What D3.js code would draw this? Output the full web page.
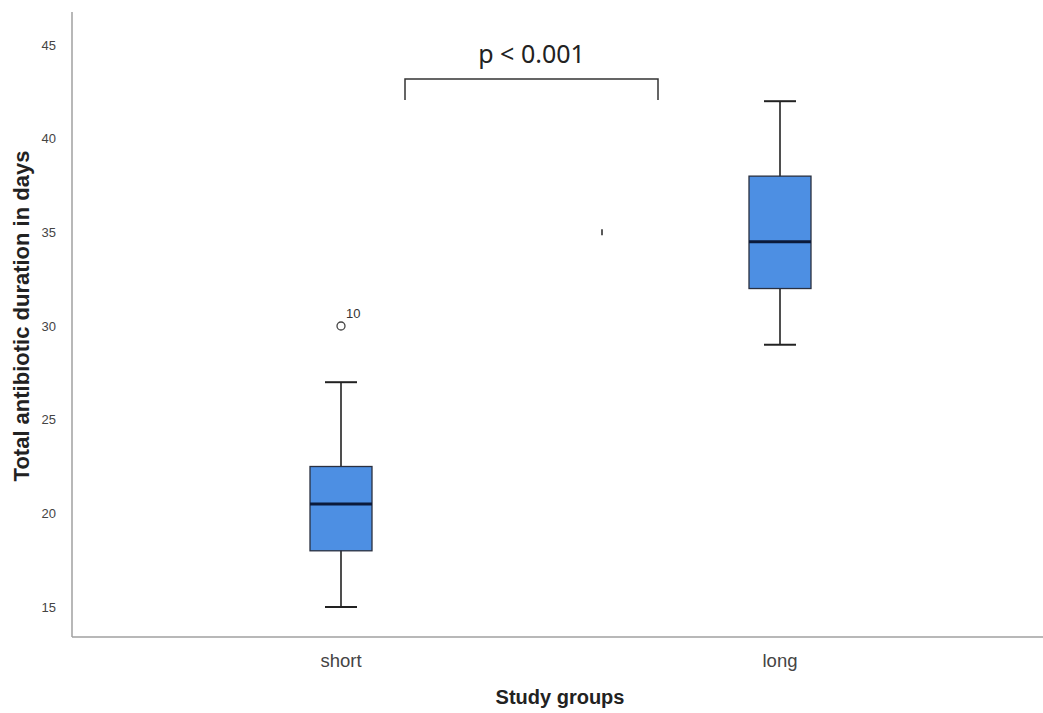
<!DOCTYPE html>
<html>
<head>
<meta charset="utf-8">
<script src="https://cdn.jsdelivr.net/npm/d3@7"></script>
<style>
  body { margin: 0; background: #fff; }
  svg { display: block; font-family: "Liberation Sans", Arial, sans-serif; }
  .tick text { fill: #444; }
</style>
</head>
<body>
<div id="chart"></div>
<script>
// Box plot data
const groups = ['short', 'long'];
const mins = [15, 29];
const q1s = [18, 32];
const medians = [20.5, 34.5];
const q3s = [22.5, 38];
const maxs = [27, 42];
const outliers = [{ group: 'short', value: 30, label: '10' }];
const yTicks = [15, 20, 25, 30, 35, 40, 45];

const W = 1043, H = 713;
const margin = { top: 12, right: 0, bottom: 76, left: 72 };

const svg = d3.select('#chart').append('svg')
    .attr('width', W)
    .attr('height', H);

// 15 -> y 607, 45 -> y 45
const y = d3.scaleLinear().domain([15, 45]).range([607, 45]);
const x = d3.scalePoint().domain(groups).range([341, 780]);

// axes lines
svg.append('line')
    .attr('x1', margin.left).attr('x2', margin.left)
    .attr('y1', margin.top).attr('y2', H - margin.bottom)
    .attr('stroke', '#a0a0a0').attr('stroke-width', 1.5);
svg.append('line')
    .attr('x1', margin.left).attr('x2', W)
    .attr('y1', H - margin.bottom).attr('y2', H - margin.bottom)
    .attr('stroke', '#a0a0a0').attr('stroke-width', 1.5);

// y tick labels
svg.append('g')
    .attr('class', 'tick')
    .selectAll('text')
    .data(yTicks)
    .enter().append('text')
    .attr('x', 56)
    .attr('y', d => y(d))
    .attr('dy', '0.35em')
    .attr('text-anchor', 'end')
    .attr('font-size', 13)
    .text(d => d);

// x tick labels
svg.append('g')
    .attr('class', 'tick')
    .selectAll('text')
    .data(groups)
    .enter().append('text')
    .attr('x', d => x(d))
    .attr('y', 667)
    .attr('text-anchor', 'middle')
    .attr('font-size', 18.5)
    .text(d => d);

// axis titles
svg.append('text')
    .attr('x', 560)
    .attr('y', 704)
    .attr('text-anchor', 'middle')
    .attr('font-size', 20)
    .attr('font-weight', 'bold')
    .attr('fill', '#222')
    .text('Study groups');

svg.append('text')
    .attr('transform', `translate(29, 316) rotate(-90)`)
    .attr('text-anchor', 'middle')
    .attr('font-size', 22)
    .attr('font-weight', 'bold')
    .attr('fill', '#222')
    .text('Total antibiotic duration in days');

// boxes
const boxW = 62, capW = 32;
const rows = groups.map((g, i) => ({
    g, min: mins[i], q1: q1s[i], med: medians[i], q3: q3s[i], max: maxs[i]
}));

const box = svg.append('g').selectAll('g')
    .data(rows)
    .enter().append('g');

box.append('line')
    .attr('x1', d => x(d.g)).attr('x2', d => x(d.g))
    .attr('y1', d => y(d.max)).attr('y2', d => y(d.min))
    .attr('stroke', '#222').attr('stroke-width', 1.6);

box.selectAll('.cap')
    .data(d => [d.min, d.max].map(v => ({ g: d.g, v })))
    .enter().append('line')
    .attr('x1', d => x(d.g) - capW / 2).attr('x2', d => x(d.g) + capW / 2)
    .attr('y1', d => y(d.v)).attr('y2', d => y(d.v))
    .attr('stroke', '#222').attr('stroke-width', 2);

box.append('rect')
    .attr('x', d => x(d.g) - boxW / 2)
    .attr('y', d => y(d.q3))
    .attr('width', boxW)
    .attr('height', d => y(d.q1) - y(d.q3))
    .attr('fill', '#4d8fe3')
    .attr('stroke', '#2a3040')
    .attr('stroke-width', 1.3);

box.append('line')
    .attr('x1', d => x(d.g) - boxW / 2).attr('x2', d => x(d.g) + boxW / 2)
    .attr('y1', d => y(d.med)).attr('y2', d => y(d.med))
    .attr('stroke', '#0b1a3a').attr('stroke-width', 3);

// outliers
outliers.forEach(o => {
    svg.append('circle')
        .attr('cx', x(o.group))
        .attr('cy', y(o.value))
        .attr('r', 4)
        .attr('fill', 'none')
        .attr('stroke', '#444')
        .attr('stroke-width', 1.3);
    svg.append('text')
        .attr('x', x(o.group) + 5)
        .attr('y', y(o.value) - 8)
        .attr('font-size', 13)
        .attr('fill', '#333')
        .text(o.label);
});

// small stray mark in the middle
svg.append('line')
    .attr('x1', 602).attr('x2', 602)
    .attr('y1', y(35) - 3).attr('y2', y(35) + 3)
    .attr('stroke', '#222').attr('stroke-width', 1.5);

// significance bracket
const bx0 = 405, bx1 = 658, bTop = 79, bBot = 100;
svg.append('path')
    .attr('d', `M${bx0},${bBot}V${bTop}H${bx1}V${bBot}`)
    .attr('fill', 'none')
    .attr('stroke', '#333')
    .attr('stroke-width', 1.5);

svg.append('text')
    .attr('x', (bx0 + bx1) / 2)
    .attr('y', 63)
    .attr('text-anchor', 'middle')
    .attr('font-family', '"Noto Sans", sans-serif')
    .attr('font-size', 25)
    .attr('fill', '#222')
    .text('p < 0.001');
</script>
</body>
</html>
